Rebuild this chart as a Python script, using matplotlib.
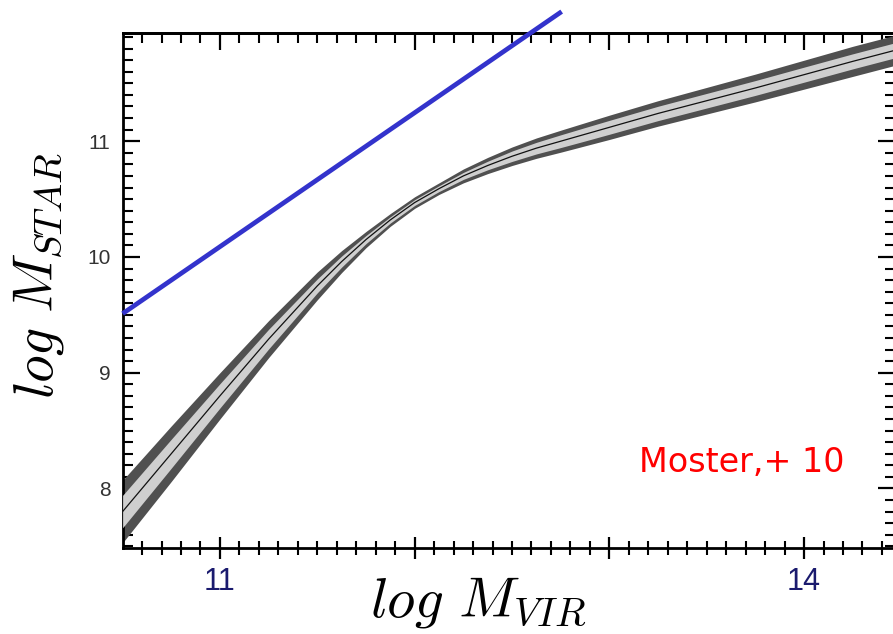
"""Stellar mass vs halo mass relation with abundance-matching band."""

import matplotlib.pyplot as plt
from matplotlib.ticker import FixedLocator, MultipleLocator

plt.rcParams["mathtext.fontset"] = "cm"

# log halo mass sample points along the relation
log_mvir = [10.5, 10.75, 11.0, 11.25, 11.5, 11.625, 11.75, 11.875, 12.0,
            12.125, 12.25, 12.375, 12.5, 12.625, 12.75, 12.875, 13.0, 13.25,
            13.5, 13.75, 14.0, 14.25, 14.5]
# median log stellar mass
log_mstar = [7.80, 8.30, 8.80, 9.29, 9.75, 9.96, 10.15, 10.32, 10.47,
             10.59, 10.70, 10.79, 10.87, 10.94, 11.00, 11.06, 11.12, 11.24,
             11.35, 11.46, 11.575, 11.69, 11.80]
# half widths of the outer (dark) and inner (light) scatter bands, dex
outer_width = [0.27, 0.24, 0.20, 0.16, 0.12, 0.095, 0.07, 0.055, 0.05,
               0.05, 0.06, 0.07, 0.08, 0.088, 0.095, 0.10, 0.105, 0.11,
               0.115, 0.12, 0.125, 0.13, 0.13]
inner_width = [0.14, 0.125, 0.105, 0.085, 0.06, 0.048, 0.035, 0.027, 0.025,
               0.025, 0.03, 0.037, 0.045, 0.05, 0.055, 0.058, 0.06, 0.062,
               0.063, 0.064, 0.065, 0.065, 0.065]

# reference straight line (blue)
line_mvir = [10.5, 12.755]
line_mstar = [9.51, 12.12]

x_labeled = [11, 14]
y_labeled = [8, 9, 10, 11]

fig = plt.figure(figsize=(8.93, 6.34), dpi=100)
ax = fig.add_axes([123 / 893, 86 / 634, 772 / 893, 515 / 634])

lo_out = [m - w for m, w in zip(log_mstar, outer_width)]
hi_out = [m + w for m, w in zip(log_mstar, outer_width)]
lo_in = [m - w for m, w in zip(log_mstar, inner_width)]
hi_in = [m + w for m, w in zip(log_mstar, inner_width)]

ax.fill_between(log_mvir, lo_out, hi_out, color="#505050", lw=0, zorder=2)
ax.fill_between(log_mvir, lo_in, hi_in, color="#cfcfcf", lw=0, zorder=3)
ax.plot(log_mvir, log_mstar, color="#111111", lw=0.9, zorder=4)

ax.plot(line_mvir, line_mstar, color="#3333cc", lw=3.4,
        solid_capstyle="butt", clip_on=False, zorder=5)

ax.set_xlim(10.502, 14.467)
ax.set_ylim(7.485, 11.935)

for side in ["left", "bottom", "top"]:
    ax.spines[side].set_linewidth(2.0)
ax.spines["right"].set_visible(False)

ax.xaxis.set_major_locator(FixedLocator([11, 12, 13, 14]))
ax.xaxis.set_minor_locator(MultipleLocator(0.1))
ax.set_xticklabels([str(v) if v in x_labeled else "" for v in [11, 12, 13, 14]])
ax.tick_params(axis="x", which="major", direction="inout", length=16,
               width=1.6, pad=6, labelsize=22, labelcolor="#1a1a6e")
ax.tick_params(axis="x", which="minor", direction="inout", length=10,
               width=1.5)
for lab in ax.get_xticklabels():
    lab.set_family("Liberation Sans")

ax.yaxis.set_major_locator(FixedLocator(y_labeled))
ax.yaxis.set_minor_locator(MultipleLocator(0.1))
ax.tick_params(axis="y", which="major", direction="in", length=12,
               width=1.6, pad=9, labelsize=15, labelcolor="#333333",
               right=True)
ax.tick_params(axis="y", which="minor", direction="in", length=7,
               width=1.5, right=True)
for lab in ax.get_yticklabels():
    lab.set_family("Liberation Sans")

top = ax.secondary_xaxis("top")
top.xaxis.set_major_locator(FixedLocator([11, 12, 13, 14]))
top.xaxis.set_minor_locator(MultipleLocator(0.1))
top.tick_params(which="major", direction="in", length=12, width=1.6,
                labeltop=False)
top.tick_params(which="minor", direction="in", length=7, width=1.5)
top.spines["top"].set_linewidth(2.0)

fig.text(478 / 893, 1 - 603 / 634, r"$log\ M_{VIR}$", fontsize=41,
         ha="center", va="center")
fig.text(38 / 893, 1 - 275 / 634, r"$log\ M_{STAR}$", fontsize=40,
         ha="center", va="center", rotation=90)

fig.text(742 / 893, 1 - 462 / 634, "Moster,+ 10", color="red", fontsize=24,
         family="DejaVu Sans", ha="center", va="center")

fig.savefig("out.png", dpi=100)
